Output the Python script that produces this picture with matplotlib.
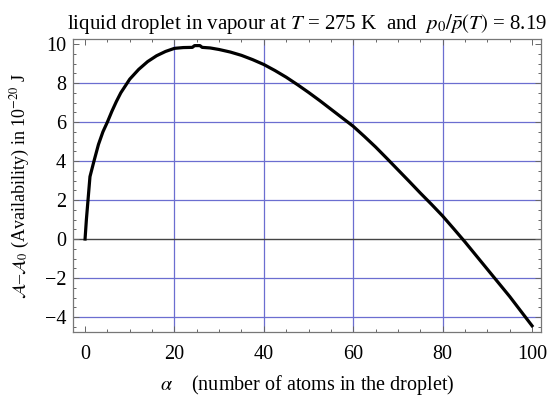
import matplotlib
matplotlib.use("Agg")
import matplotlib.pyplot as plt
from matplotlib.ticker import MultipleLocator

plt.rcParams['font.family'] = ['Liberation Serif', 'DejaVu Serif']
plt.rcParams['mathtext.fontset'] = 'stix'

# availability curve
alpha = [0, 0.3, 0.7, 1.1, 2, 3, 4, 5, 6, 7, 8, 10, 12, 14, 16, 18, 20, 22, 24,
         24.5, 25.7, 26.2, 28, 30, 32.5, 35, 37.5, 40, 42.5, 45, 47.5, 50,
         52.5, 55, 57.5, 60, 62.5, 65, 67.5, 70, 72.5, 75, 77.5, 80,
         82.5, 85, 87.5, 90, 92.5, 95, 97.5, 100]
avail = [0, 1.0, 2.1, 3.2, 4.0, 4.85, 5.5, 6.0, 6.55, 7.05, 7.5, 8.2, 8.7, 9.1,
         9.4, 9.62, 9.78, 9.82, 9.83, 9.92, 9.92, 9.83, 9.8, 9.72, 9.59, 9.42,
         9.2, 8.95, 8.64, 8.3, 7.92, 7.52, 7.1, 6.66, 6.22, 5.78, 5.26, 4.72,
         4.14, 3.55, 2.96, 2.36, 1.78, 1.18, 0.52, -0.15, -0.85, -1.55, -2.25,
         -2.95, -3.7, -4.45]

x_grid = [20, 40, 60, 80]
y_grid = [-4, -2, 2, 4, 6, 8]

fig = plt.figure(figsize=(5.5, 3.97), dpi=100)
ax = fig.add_axes([0.1327, 0.1637, 0.8509, 0.7381])

grid_col = '#6b6ed0'
for gx in x_grid:
    ax.axvline(gx, color=grid_col, lw=0.9, zorder=1)
for gy in y_grid:
    ax.axhline(gy, color=grid_col, lw=0.9, zorder=1)
ax.axhline(0, color='#444444', lw=1.0, zorder=1)

ax.plot(alpha, avail, color='black', lw=2.3, zorder=3)

ax.set_xlim(-2.7, 102)
ax.set_ylim(-4.77, 10.26)
ax.xaxis.set_minor_locator(MultipleLocator(5))
ax.yaxis.set_minor_locator(MultipleLocator(0.5))
ax.tick_params(which='both', direction='in', top=True, right=True,
               color='#666666', width=0.7)
ax.tick_params(which='major', length=4, labelsize=14.5, pad=5)
ax.tick_params(axis='x', which='major', pad=9)
ax.tick_params(which='minor', length=2.2)
ax.set_xticks([0, 20, 40, 60, 80, 100])
ax.set_xticklabels(['0', '20', '40', '60', '80', '100'])
ax.set_yticks([-4, -2, 0, 2, 4, 6, 8, 10])
ax.set_yticklabels(['\u22124', '\u22122', '0', '2', '4', '6', '8', '10'])
for s in ax.spines.values():
    s.set_color('#777777')
    s.set_linewidth(0.9)

ax.set_xlabel(r'$\alpha$    (number of atoms in the droplet)', fontsize=14.5,
              labelpad=7)
ax.set_ylabel(r'$\mathcal{A}$–$\mathcal{A}_0$ (Availability) in 10$^{-20}$ J',
              fontsize=13, labelpad=9)
ax.set_title(r'liquid droplet in vapour at $T$ = 275 K  and  $p_0/\bar{p}(T)$ = 8.19',
             fontsize=15, pad=7)

fig.savefig('out.png', dpi=100)
